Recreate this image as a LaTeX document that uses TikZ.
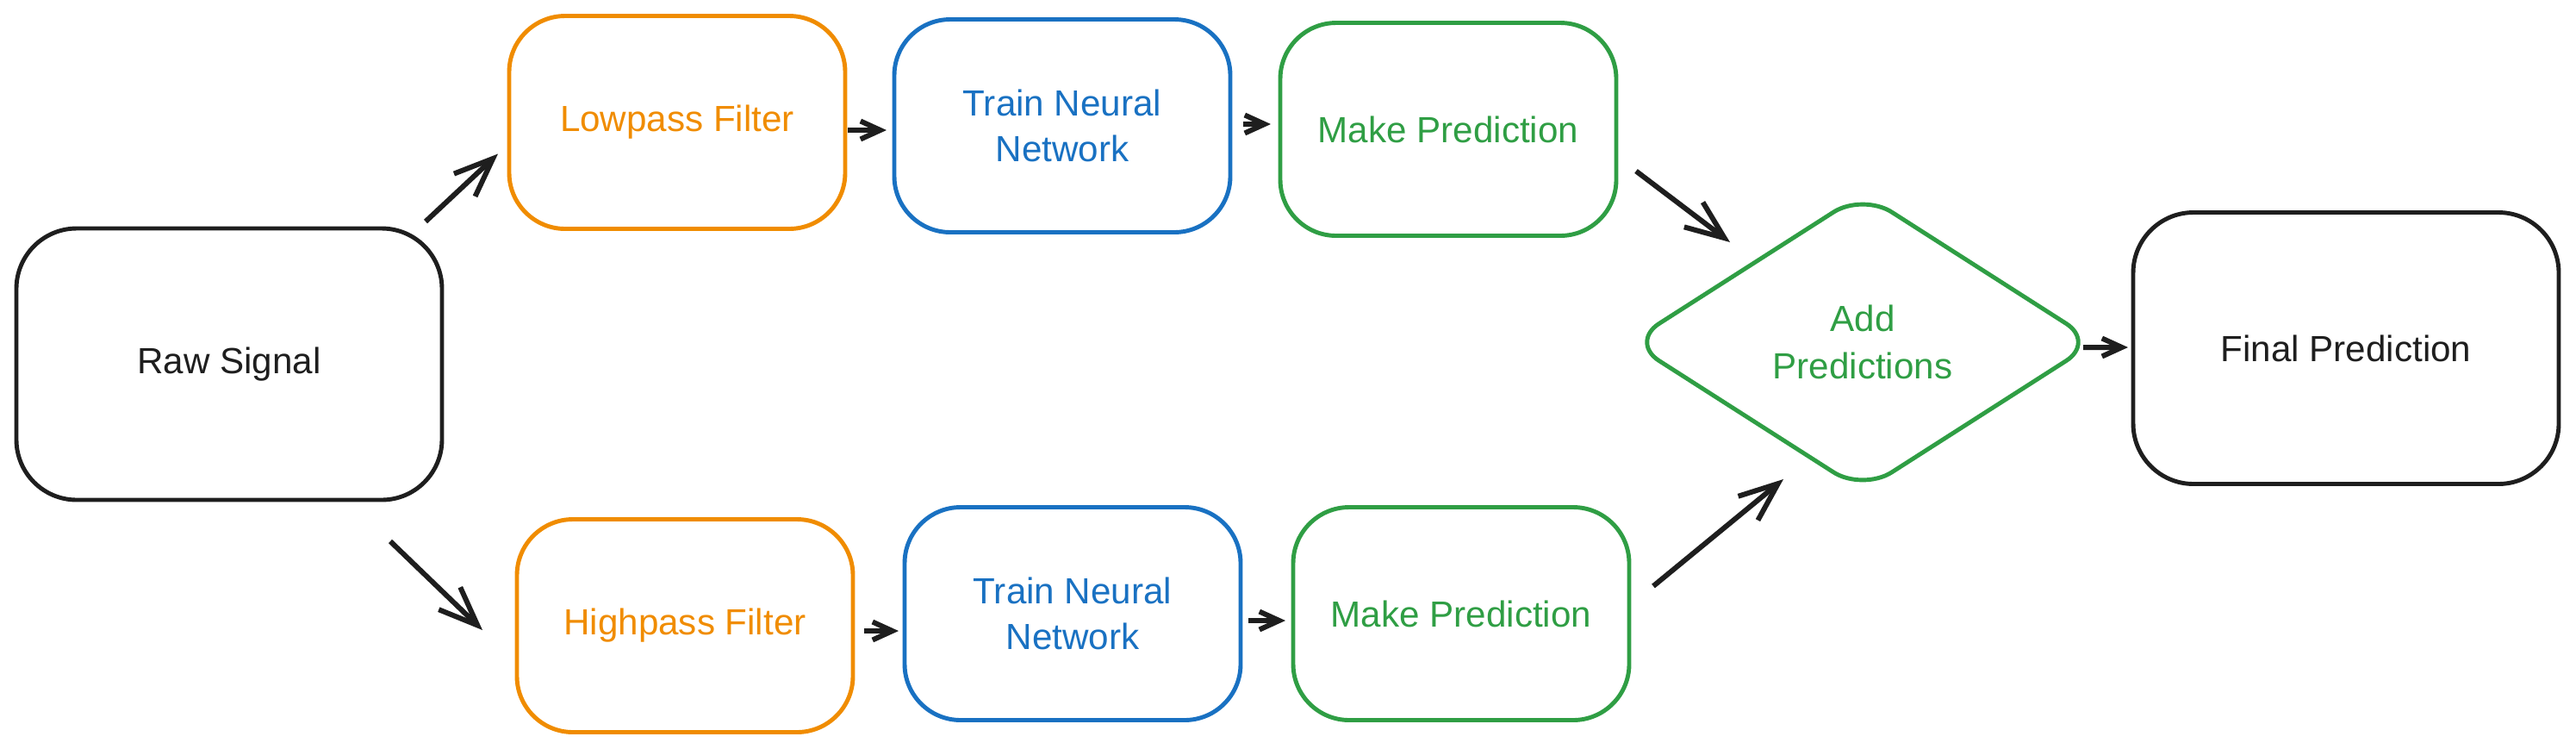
\documentclass[tikz,border=0pt]{standalone}
\usepackage{fontspec}
\setmainfont{Liberation Sans}
\usetikzlibrary{arrows.meta,shapes.geometric}
\definecolor{inkblack}{HTML}{1E1E1E}
\definecolor{inkorange}{HTML}{F08C00}
\definecolor{inkblue}{HTML}{1971C2}
\definecolor{inkgreen}{HTML}{2F9E44}
\begin{document}
\begin{tikzpicture}[
		box/.style={draw, rectangle, rounded corners=6.5mm, line width=1.4pt, minimum width=3.9cm, minimum height=2.47cm, align=center, font=\fontsize{12}{15}\selectfont},
		bigbox/.style={box, rounded corners=7mm, minimum width=4.94cm, minimum height=3.15cm, inkblack},
		arr/.style={-{Straight Barb[length=4.5mm,width=3.6mm]}, line width=1.7pt, inkblack},
		sarr/.style={-{Straight Barb[length=2.3mm,width=2.1mm]}, line width=1.7pt, inkblack}]
		\tikzstyle{every node}+=[inner sep=0pt, outer sep=0pt]
		\useasboundingbox (0,0) rectangle (29.9,-8.68);
		\node [bigbox] (raw) at (2.66,-4.225) {Raw Signal};
		\node [box, inkorange] (low) at (7.86,-1.42) {Lowpass Filter};
		\node [box, inkorange] (high) at (7.95,-7.26) {Highpass Filter};
		\node [box, inkblue] (trainA) at (12.33,-1.46) {Train Neural\\Network};
		\node [box, inkgreen] (makeA) at (16.81,-1.50) {Make Prediction};
		\node [box, inkblue] (trainB) at (12.45,-7.12) {Train Neural\\Network};
		\node [box, inkgreen] (makeB) at (16.96,-7.12) {Make Prediction};
		\node [draw, diamond, inkgreen, line width=1.4pt, rounded corners=4mm, minimum width=5.4cm, minimum height=3.45cm, align=center, font=\fontsize{12}{15.5}\selectfont] (add) at (21.62,-3.97) {Add\\Predictions};
		\node [bigbox] (final) at (27.23,-4.04) {Final Prediction};
		\draw [arr] ([xshift=-1.9mm,yshift=0.8mm]raw.north east) -- ([xshift=-1.3mm,yshift=8.7mm]low.south west);
		\draw [arr] ([xshift=-6mm,yshift=-4.8mm]raw.south east) -- ([xshift=-4mm,yshift=-0.5mm]high.west);
		\draw [sarr] ([xshift=0.3mm,yshift=-0.9mm]low.east) -- ([xshift=-0.9mm,yshift=-0.5mm]trainA.west);
		\draw [sarr] ([xshift=1.5mm,yshift=0.2mm]trainA.east) -- ([xshift=-1.1mm,yshift=0.6mm]makeA.west);
		\draw [arr] ([xshift=2.3mm,yshift=7.5mm]makeA.south east) -- ([xshift=-15.4mm,yshift=-5.65mm]add.north);
		\draw [sarr] ([xshift=1.3mm,yshift=-0.6mm]high.east) -- ([xshift=-0.7mm,yshift=-2mm]trainB.west);
		\draw [sarr] ([xshift=0.9mm,yshift=-0.8mm]trainB.east) -- ([xshift=-0.9mm,yshift=-0.8mm]makeB.west);
		\draw [arr] ([xshift=2.8mm,yshift=3.2mm]makeB.east) -- ([xshift=-9.2mm,yshift=1.35mm]add.south);
		\draw [sarr] ([xshift=-1.4mm,yshift=-0.6mm]add.east) -- ([xshift=-0.6mm,yshift=0.1mm]final.west);
	\end{tikzpicture}
\end{document}
